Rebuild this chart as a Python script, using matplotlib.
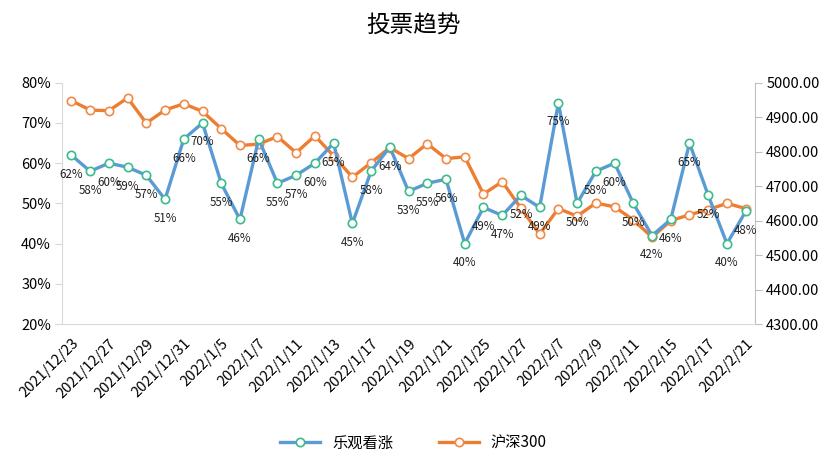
import matplotlib
matplotlib.use("Agg")
import matplotlib.pyplot as plt
from matplotlib.ticker import FuncFormatter

plt.rcParams['font.family'] = ['Noto Sans CJK SC', 'DejaVu Sans']

dates = ['2021/12/23', '2021/12/24', '2021/12/27', '2021/12/28', '2021/12/29', '2021/12/30',
         '2021/12/31', '2022/1/4', '2022/1/5', '2022/1/6', '2022/1/7', '2022/1/10',
         '2022/1/11', '2022/1/12', '2022/1/13', '2022/1/14', '2022/1/17', '2022/1/18',
         '2022/1/19', '2022/1/20', '2022/1/21', '2022/1/24', '2022/1/25', '2022/1/26',
         '2022/1/27', '2022/1/28', '2022/2/7', '2022/2/8', '2022/2/9', '2022/2/10',
         '2022/2/11', '2022/2/14', '2022/2/15', '2022/2/16', '2022/2/17', '2022/2/18',
         '2022/2/21']

bullish = [62, 58, 60, 59, 57, 51, 66, 70, 55, 46, 66, 55, 57, 60, 65, 45, 58, 64, 53,
           55, 56, 40, 49, 47, 52, 49, 75, 50, 58, 60, 50, 42, 46, 65, 52, 40, 48]

hs300 = [4948, 4921, 4919, 4956, 4883, 4921, 4939, 4917, 4867, 4818, 4822, 4844, 4797,
         4846, 4788, 4726, 4768, 4812, 4780, 4823, 4780, 4785, 4677, 4713, 4636, 4561,
         4635, 4613, 4651, 4640, 4602, 4552, 4600, 4617, 4632, 4650, 4635]

blue = '#5B9BD5'
orange = '#ED7D31'
gray = '#D9D9D9'

fig = plt.figure(figsize=(8.27, 4.73), dpi=100)
ax = fig.add_axes([0.075, 0.315, 0.838, 0.51])
ax2 = ax.twinx()

x = list(range(len(dates)))

l2, = ax2.plot(x, hs300, color=orange, lw=2.4, marker='o', ms=6,
               mfc='white', mec='#F08A45', mew=1.2, label='沪深300', zorder=2)
l1, = ax.plot(x, bullish, color=blue, lw=2.4, marker='o', ms=6,
              mfc='white', mec='#3DBB8C', mew=1.2, label='乐观看涨', zorder=3)

# blue series must sit on top of the orange one
ax.set_zorder(ax2.get_zorder() + 1)
ax.patch.set_visible(False)

for i, v in enumerate(bullish):
    ax.annotate(f'{v}%', (i, v), xytext=(0, -19), textcoords='offset pixels',
                ha='center', va='center', fontsize=8.3, color='#222222')

ax.set_xlim(-0.5, len(dates) - 0.5)
ax.set_ylim(20, 80)
ax.set_yticks(range(20, 81, 10))
ax.yaxis.set_major_formatter(FuncFormatter(lambda v, p: f'{int(v)}%'))
ax2.set_ylim(4300, 5000)
ax2.set_yticks(range(4300, 5001, 100))
ax2.yaxis.set_major_formatter(FuncFormatter(lambda v, p: f'{v:.2f}'))

ax.set_xticks(x[::2])
ax.set_xticklabels(dates[::2], rotation=45, ha='right', va='top',
                   rotation_mode='anchor', fontsize=10.5)
ax.tick_params(axis='x', length=0, pad=9)
ax.tick_params(axis='y', length=5, color=gray, labelsize=10.5, pad=3)
ax2.tick_params(axis='y', length=5, color='#BFBFBF', labelsize=10.5, pad=3)

for a in (ax, ax2):
    a.spines['top'].set_visible(False)
ax.spines['right'].set_visible(False)
ax.spines['left'].set_color(gray)
ax.spines['bottom'].set_color(gray)
ax2.spines['left'].set_visible(False)
ax2.spines['bottom'].set_visible(False)
ax2.spines['right'].set_color('#BFBFBF')

fig.text(0.5, 0.945, '投票趋势', ha='center', va='center', fontsize=17)

fig.legend([l1, l2], ['乐观看涨', '沪深300'], loc='center', bbox_to_anchor=(0.5, 0.063),
           ncol=2, frameon=False, fontsize=11, handlelength=2.6, columnspacing=3)

fig.savefig('out.png', dpi=100)
